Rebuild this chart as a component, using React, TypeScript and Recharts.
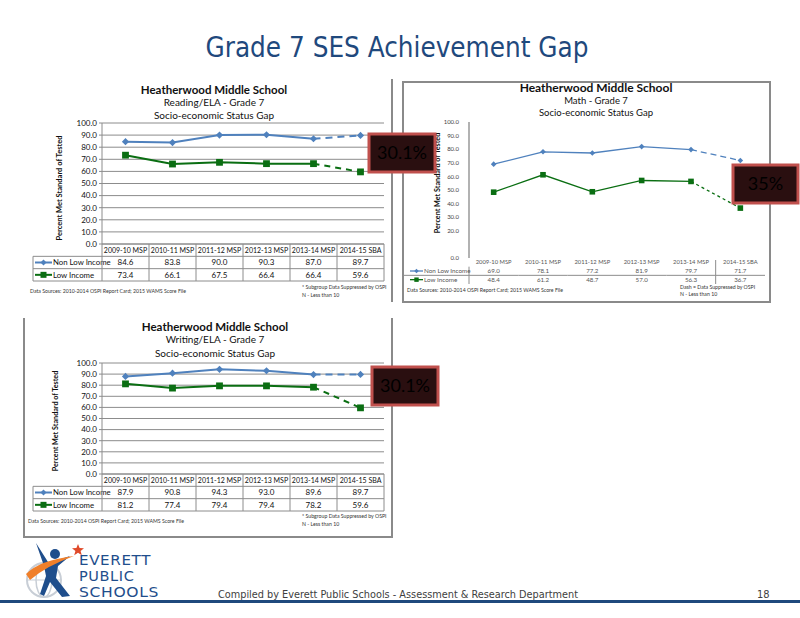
import React from 'react';
import { LineChart, Line, XAxis, YAxis, CartesianGrid } from 'recharts';

const years = ['2009-10 MSP', '2010-11 MSP', '2011-12 MSP', '2012-13 MSP', '2013-14 MSP', '2014-15 SBA'];
const seriesNames = ['Non Low Income', 'Low Income'];
const readingNonLow = [84.6, 83.8, 90.0, 90.3, 87.0, 89.7];
const readingLow = [73.4, 66.1, 67.5, 66.4, 66.4, 59.6];
const mathNonLow = [69.0, 78.1, 77.2, 81.9, 79.7, 71.7];
const mathLow = [48.4, 61.2, 48.7, 57.0, 56.3, 36.7];
const writingNonLow = [87.9, 90.8, 94.3, 93.0, 89.6, 89.7];
const writingLow = [81.2, 77.4, 79.4, 79.4, 78.2, 59.6];
const yTicks = [0, 10, 20, 30, 40, 50, 60, 70, 80, 90, 100];
const mathYTicks = [0, 20, 30, 40, 50, 60, 70, 80, 90, 100];
const gapLabels = ['30.1%', '35%', '30.1%'];
const subjects = ['Reading/ELA - Grade 7', 'Math - Grade 7', 'Writing/ELA - Grade 7'];

const BLUE = '#4F81BD';
const GREEN = '#0A6E12';
const GRID = '#8c8c8c';
const FONT = "Lato, 'Open Sans', sans-serif";

type Cfg = {
  left: number; top: number; width: number; height: number;
  margin: { top: number; right: number; bottom: number; left: number };
  yWidth: number; tableH: number; grid: boolean; xAxisLine: boolean;
  tickSize: number; tickMargin: number; ticks: number[]; tickFs: number; tickFill: string;
  lineW: number; dR: number; sR: number; tableFs: number; headerFs: number;
  fullBorders: boolean; dash: string; gdash: string;
};

const readingCfg: Cfg = {
  left: 30, top: 113, width: 360, height: 170,
  margin: { top: 10, right: 6, bottom: 2, left: 30 }, yWidth: 42, tableH: 37,
  grid: true, xAxisLine: true, tickSize: 3, tickMargin: 2, ticks: yTicks, tickFs: 8, tickFill: '#111',
  lineW: 2, dR: 3.6, sR: 3.4, tableFs: 8, headerFs: 7, fullBorders: true, dash: '7 5', gdash: '6 5',
};
const writingCfg: Cfg = { ...readingCfg, top: 353, height: 160 };
const mathCfg: Cfg = {
  left: 403, top: 112, width: 365, height: 174,
  margin: { top: 10, right: 3, bottom: 2, left: 16 }, yWidth: 50, tableH: 26,
  grid: false, xAxisLine: false, tickSize: 0, tickMargin: 10, ticks: mathYTicks, tickFs: 6, tickFill: '#444',
  lineW: 1.3, dR: 2.8, sR: 2.8, tableFs: 6.2, headerFs: 5.8, fullBorders: false, dash: '6 4', gdash: '3 3',
};

function geom(c: Cfg) {
  const plotLeft = c.left + c.margin.left + c.yWidth;
  const plotRight = c.left + c.width - c.margin.right;
  const plotTop = c.top + c.margin.top;
  const plotBottom = c.top + c.height - c.margin.bottom - c.tableH;
  return { plotLeft, plotRight, plotTop, plotBottom, rowH: c.tableH / 3, bw: (plotRight - plotLeft) / years.length };
}

const diamondDot = (r: number, only?: number) => (p: any) => {
  const { cx, cy, index } = p;
  if (cx == null || cy == null || (only !== undefined && index !== only)) return <g key={`dd${index}`} />;
  return (
    <path key={`dd${index}`} d={`M${cx},${cy - r} L${cx + r},${cy} L${cx},${cy + r} L${cx - r},${cy} Z`} fill={BLUE} />
  );
};
const squareDot = (r: number, only?: number) => (p: any) => {
  const { cx, cy, index } = p;
  if (cx == null || cy == null || (only !== undefined && index !== only)) return <g key={`sd${index}`} />;
  return <rect key={`sd${index}`} x={cx - r} y={cy - r} width={2 * r} height={2 * r} fill={GREEN} />;
};

function SesChart({ cfg, nonLow, low }: { cfg: Cfg; nonLow: number[]; low: number[] }) {
  const g = geom(cfg);
  const data = years.map((cat, i) => ({
    cat,
    nonLow: i < 5 ? nonLow[i] : null,
    nonLowDash: i >= 4 ? nonLow[i] : null,
    low: i < 5 ? low[i] : null,
    lowDash: i >= 4 ? low[i] : null,
  }));
  const rh = g.rowH;
  const bw = g.bw;
  const renderTick = (p: any) => {
    const { x, y, index } = p;
    const l = x - bw / 2;
    const r = x + bw / 2;
    const st = { stroke: GRID, strokeWidth: 1 };
    const fill = cfg.fullBorders ? '#111' : '#555';
    return (
      <g>
        {cfg.fullBorders ? (
          <g>
            {index === 0 && <line x1={l} x2={l} y1={y} y2={y + 3 * rh} {...st} />}
            <line x1={r} x2={r} y1={y} y2={y + 3 * rh} {...st} />
            <line x1={l} x2={r} y1={y + rh} y2={y + rh} {...st} />
            <line x1={l} x2={r} y1={y + 2 * rh} y2={y + 2 * rh} {...st} />
            <line x1={l} x2={r} y1={y + 3 * rh} y2={y + 3 * rh} {...st} />
          </g>
        ) : (
          <g>
            {index === 4 && <line x1={r} x2={r} y1={y + 2} y2={y + 3 * rh} {...st} />}
            <line x1={l} x2={r} y1={y + 2 * rh} y2={y + 2 * rh} {...st} />
          </g>
        )}
        <text x={x} y={y + rh * 0.74} textAnchor="middle" fontSize={cfg.headerFs} fontFamily={FONT} fill={fill}>
          {years[index]}
        </text>
        <text x={x} y={y + rh * 1.74} textAnchor="middle" fontSize={cfg.tableFs} fontFamily={FONT} fill={fill}>
          {nonLow[index].toFixed(1)}
        </text>
        <text x={x} y={y + rh * 2.74} textAnchor="middle" fontSize={cfg.tableFs} fontFamily={FONT} fill={fill}>
          {low[index].toFixed(1)}
        </text>
      </g>
    );
  };
  return (
    <div style={{ position: 'absolute', left: cfg.left, top: cfg.top }}>
      <LineChart width={cfg.width} height={cfg.height} data={data} margin={cfg.margin}>
        {cfg.grid && <CartesianGrid vertical={false} stroke={GRID} strokeWidth={1} />}
        <XAxis
          dataKey="cat"
          interval={0}
          height={cfg.tableH}
          padding={{ left: bw / 2, right: bw / 2 }}
          tickSize={0}
          tickMargin={0}
          tickLine={false}
          axisLine={cfg.xAxisLine ? { stroke: GRID } : false}
          tick={renderTick}
        />
        <YAxis
          type="number"
          domain={[0, 100]}
          ticks={cfg.ticks}
          interval={0}
          width={cfg.yWidth}
          tickFormatter={(v: number) => v.toFixed(1)}
          tick={{ fontSize: cfg.tickFs, fill: cfg.tickFill, fontFamily: FONT }}
          tickLine={cfg.tickSize > 0 ? { stroke: GRID } : false}
          tickSize={cfg.tickSize}
          tickMargin={cfg.tickMargin}
          axisLine={{ stroke: cfg.grid ? GRID : '#999', strokeWidth: cfg.grid ? 1 : 1.5 }}
        />
        <Line dataKey="nonLow" stroke={BLUE} strokeWidth={cfg.lineW} dot={diamondDot(cfg.dR)} activeDot={false} isAnimationActive={false} />
        <Line dataKey="nonLowDash" stroke={BLUE} strokeWidth={cfg.lineW} strokeDasharray={cfg.dash} dot={diamondDot(cfg.dR, 5)} activeDot={false} isAnimationActive={false} />
        <Line dataKey="low" stroke={GREEN} strokeWidth={cfg.lineW} dot={squareDot(cfg.sR)} activeDot={false} isAnimationActive={false} />
        <Line dataKey="lowDash" stroke={GREEN} strokeWidth={cfg.lineW} strokeDasharray={cfg.gdash} dot={squareDot(cfg.sR, 5)} activeDot={false} isAnimationActive={false} />
      </LineChart>
    </div>
  );
}

function LabelColumn({ cfg, x0 }: { cfg: Cfg; x0: number }) {
  const g = geom(cfg);
  const rh = g.rowH;
  const y = g.plotBottom;
  const st = { stroke: GRID, strokeWidth: 1 };
  const small = !cfg.fullBorders;
  const iconW = small ? 13 : 17;
  const fs = small ? 6.3 : 7.8;
  return (
    <g>
      {cfg.fullBorders ? (
        <g>
          <line x1={x0} x2={g.plotLeft} y1={y + rh} y2={y + rh} {...st} />
          <line x1={x0} x2={g.plotLeft} y1={y + 2 * rh} y2={y + 2 * rh} {...st} />
          <line x1={x0} x2={g.plotLeft} y1={y + 3 * rh} y2={y + 3 * rh} {...st} />
          <line x1={x0} x2={x0} y1={y + rh} y2={y + 3 * rh} {...st} />
        </g>
      ) : (
        <g>
          <line x1={x0 - 6} x2={g.plotLeft} y1={y + 2 * rh} y2={y + 2 * rh} {...st} />
          <line x1={g.plotLeft} x2={g.plotLeft} y1={y + rh} y2={y + 3 * rh} {...st} />
        </g>
      )}
      {seriesNames.map((name, k) => {
        const cy = y + rh * (1.5 + k);
        const cx = x0 + 2 + iconW / 2;
        const r = small ? 2.2 : 3;
        return (
          <g key={name}>
            <line x1={x0 + 2} x2={x0 + 2 + iconW} y1={cy} y2={cy} stroke={k === 0 ? BLUE : GREEN} strokeWidth={small ? 1.3 : 2} />
            {k === 0 ? (
              <path d={`M${cx},${cy - r} L${cx + r},${cy} L${cx},${cy + r} L${cx - r},${cy} Z`} fill={BLUE} />
            ) : (
              <rect x={cx - r} y={cy - r} width={2 * r} height={2 * r} fill={GREEN} />
            )}
            <text x={x0 + 3 + iconW} y={cy + fs * 0.36} fontSize={fs} fontFamily={FONT} fill={small ? '#555' : '#111'}>
              {name}
            </text>
          </g>
        );
      })}
    </g>
  );
}

function ChartTitles({ cx, ys, sizes, subject }: { cx: number; ys: number[]; sizes: number[]; subject: string }) {
  return (
    <g fontFamily={FONT} textAnchor="middle" fill="#111">
      <text x={cx} y={ys[0]} fontSize={sizes[0]} fontWeight="bold">Heatherwood Middle School</text>
      <text x={cx} y={ys[1]} fontSize={sizes[1]}>{subject}</text>
      <text x={cx} y={ys[2]} fontSize={sizes[1]}>Socio-economic Status Gap</text>
    </g>
  );
}

function YLabel({ x, y, fs }: { x: number; y: number; fs: number }) {
  return (
    <text x={x} y={y} transform={`rotate(-90 ${x} ${y})`} textAnchor="middle" fontSize={fs} fontWeight="bold" fontFamily={FONT} fill="#111">
      Percent Met Standard of Tested
    </text>
  );
}

function GapBox({ x, y, w, h, label }: { x: number; y: number; w: number; h: number; label: string }) {
  return (
    <g>
      <rect x={x} y={y} width={w} height={h} fill="#2A0F10" stroke="#C0504D" strokeWidth={3} />
      <text x={x + w / 2} y={y + h / 2 + 6} textAnchor="middle" fontSize={18} fontFamily={FONT} fill="#000">
        {label}
      </text>
    </g>
  );
}

export default function App() {
  const srcText = 'Data Sources: 2010-2014 OSPI Report Card; 2015 WAMS Score File';
  return (
    <div style={{ position: 'absolute', left: 0, top: 0, width: 800, height: 618, background: '#fff', overflow: 'hidden' }}>
      <svg width={800} height={618} style={{ position: 'absolute', left: 0, top: 0 }}>
        <text x={397} y={57} textAnchor="middle" fontSize={28} fill="#1F497D"
          fontFamily="'DejaVu Sans Condensed', 'DejaVu Sans', sans-serif" textLength={383} lengthAdjust="spacingAndGlyphs">
          Grade 7 SES Achievement Gap
        </text>

        {/* frames */}
        <line x1={392} x2={392} y1={79} y2={302} stroke="#8a8a8a" strokeWidth={2} />
        <rect x={403} y={82} width={367} height={220} fill="none" stroke="#8a8a8a" strokeWidth={2} />
        <path d="M24,318 L24,537 L392,537 L392,318" fill="none" stroke="#8a8a8a" strokeWidth={2} />

        <ChartTitles cx={214} ys={[94, 106, 119]} sizes={[11.5, 10]} subject={subjects[0]} />
        <ChartTitles cx={596} ys={[92, 104, 116]} sizes={[12, 9.5]} subject={subjects[1]} />
        <ChartTitles cx={215} ys={[331, 343, 357]} sizes={[11.5, 10]} subject={subjects[2]} />

        <YLabel x={62} y={188} fs={7.5} />
        <YLabel x={440} y={183} fs={7.2} />
        <YLabel x={58} y={421} fs={7.2} />

        <LabelColumn cfg={readingCfg} x0={33} />
        <LabelColumn cfg={writingCfg} x0={33} />
        <LabelColumn cfg={mathCfg} x0={408} />

        <g fontFamily={FONT} fontSize={5.2} fill="#333">
          <text x={30} y={293}>{srcText}</text>
          <text x={302} y={289}>* Subgroup Data Suppressed by OSPI</text>
          <text x={302} y={297}>N - Less than 10</text>
          <text x={28} y={523}>{srcText}</text>
          <text x={302} y={518}>* Subgroup Data Suppressed by OSPI</text>
          <text x={302} y={526}>N - Less than 10</text>
          <text x={407} y={292}>{srcText}</text>
          <text x={680} y={289}>Dash = Data Suppressed by OSPI</text>
          <text x={680} y={296}>N - Less than 10</text>
        </g>

        {/* footer */}
        <rect x={0} y={600} width={800} height={3} fill="#1F497D" />
        <text x={218} y={598} fontSize={11} fill="#404040" fontFamily="'DejaVu Sans Condensed', 'DejaVu Sans', sans-serif"
          textLength={360} lengthAdjust="spacingAndGlyphs">
          Compiled  by Everett Public  Schools  - Assessment &amp; Research Department
        </text>
        <text x={757} y={598} fontSize={11} fill="#404040" fontFamily="'DejaVu Sans Condensed', 'DejaVu Sans', sans-serif">18</text>

        {/* logo */}
        <g>
          <circle cx={44} cy={580} r={17} fill="none" stroke="#c8ced6" strokeWidth={2} />
          <ellipse cx={44} cy={580} rx={8} ry={17} fill="none" stroke="#c8ced6" strokeWidth={1.5} />
          <line x1={27} x2={61} y1={580} y2={580} stroke="#c8ced6" strokeWidth={1.2} />
          <path d="M36,543 L48,562 L58,560 L70,556 L58,566 L56,578 L70,596 L62,597 L50,582 L44,596 L40,594 L46,576 L44,566 Z" fill="#1F4E8C" />
          <circle cx={55} cy={554} r={5} fill="#1F4E8C" />
          <path d="M26,574 Q40,560 74,556 Q46,566 30,580 Z" fill="#F07F2A" />
          <path d="M78,544 L79.6,548 L84,548.3 L80.6,551 L81.8,555.3 L78,552.8 L74.2,555.3 L75.4,551 L72,548.3 L76.4,548 Z" fill="#E04A2A" />
          <g fontFamily="'DejaVu Sans', sans-serif" fontSize={14.5} fill="#1F4E8C" letterSpacing={0.6}>
            <text x={79} y={565} textLength={72} lengthAdjust="spacingAndGlyphs">EVERETT</text>
            <text x={79} y={581}>PUBLIC</text>
            <text x={79} y={597} textLength={80} lengthAdjust="spacingAndGlyphs">SCHOOLS</text>
          </g>
        </g>
      </svg>

      <SesChart cfg={readingCfg} nonLow={readingNonLow} low={readingLow} />
      <SesChart cfg={mathCfg} nonLow={mathNonLow} low={mathLow} />
      <SesChart cfg={writingCfg} nonLow={writingNonLow} low={writingLow} />

      <svg width={800} height={618} style={{ position: 'absolute', left: 0, top: 0, pointerEvents: 'none' }}>
        <GapBox x={369} y={134} w={66} h={38} label={gapLabels[0]} />
        <GapBox x={733} y={165} w={65} h={38} label={gapLabels[1]} />
        <GapBox x={372} y={367} w={66} h={38} label={gapLabels[2]} />
      </svg>
    </div>
  );
}
